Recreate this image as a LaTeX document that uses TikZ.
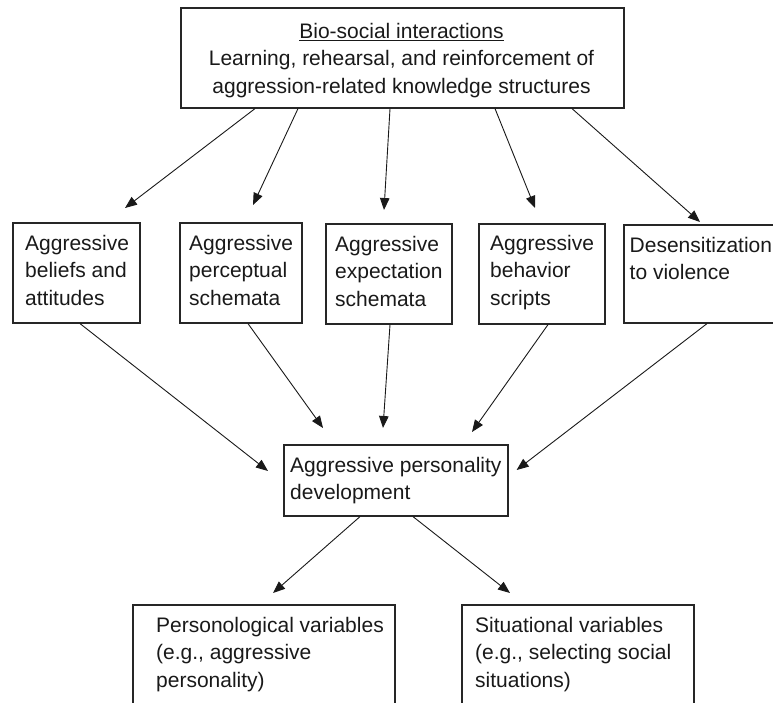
\documentclass[tikz,border=0pt]{standalone}
\usepackage{fontspec}
\setmainfont{Liberation Sans}
\usetikzlibrary{arrows.meta}
\begin{document}
\begin{tikzpicture}[x=1pt,y=-1pt,
  box/.style={draw=black!85, line width=1.6pt, rectangle, inner sep=0pt, anchor=north west},
  txt/.style={inner sep=0pt, anchor=north west, align=left, text=black!90,
    font=\fontsize{21}{27.5}\selectfont},
  ctxt/.style={inner sep=0pt, anchor=north, align=center, text=black!90,
    font=\fontsize{21}{27.5}\selectfont},
  arr/.style={draw=black!90, line width=0.9pt, -{Triangle[length=12pt,width=9.5pt]}}]
\useasboundingbox (0,0) rectangle (773,702);
\clip (0,0) rectangle (773,702);

% boxes
\node[box, minimum width=443pt, minimum height=100pt] (b0) at (180,7) {};
\node[box, minimum width=127pt, minimum height=100pt] (b1) at (12,222) {};
\node[box, minimum width=122pt, minimum height=100pt] (b2) at (179,222) {};
\node[box, minimum width=126pt, minimum height=100pt] (b3) at (325,223) {};
\node[box, minimum width=126pt, minimum height=100pt] (b4) at (478,223) {};
\node[box, minimum width=180pt, minimum height=98pt] (b5) at (623,224) {};
\node[box, minimum width=224pt, minimum height=71pt] (bm) at (283,444) {};
\node[box, minimum width=262pt, minimum height=120pt] (bl) at (132,604) {};
\node[box, minimum width=232pt, minimum height=120pt] (br) at (461,604) {};

% texts
\node[ctxt] (t0) at (401.5,18.75) {\strut\underline{Bio-social interactions}\\Learning, rehearsal, and reinforcement of\\aggression-related knowledge structures};
\node[txt] (t1) at (25,230.75) {\strut Aggressive\\beliefs and\\attitudes};
\node[txt] (t2) at (189,230.75) {\strut Aggressive\\perceptual\\schemata};
\node[txt] (t3) at (335,231.75) {\strut Aggressive\\expectation\\schemata};
\node[txt] (t4) at (490,230.75) {\strut Aggressive\\behavior\\scripts};
\node[txt] (t5) at (629.5,232.75) {\strut Desensitization\\to violence};
\node[txt] (tm) at (290,452.75) {\strut Aggressive personality\\development};
\node[txt] (tl) at (156,612.75) {\strut Personological variables\\(e.g., aggressive\\personality)};
\node[txt] (tr) at (475,612.75) {\strut Situational variables\\(e.g., selecting social\\situations)};

% arrows from top box
\draw[arr] ([xshift=75pt]b0.south west) -- ([xshift=113pt,yshift=14pt]b1.north west);
\draw[arr] ([xshift=118pt]b0.south west) -- ([xshift=74pt,yshift=17pt]b2.north west);
\draw[arr] ([xshift=210pt]b0.south west) -- ([xshift=59pt,yshift=13pt]b3.north west);
\draw[arr] ([xshift=315pt]b0.south west) -- ([xshift=57pt,yshift=15pt]b4.north west);
\draw[arr] ([xshift=392pt]b0.south west) -- ([xshift=77pt,yshift=2pt]b5.north west);

% arrows to middle box
\draw[arr] ([xshift=68pt]b1.south west) -- ([xshift=-15pt,yshift=-27pt]bm.north west);
\draw[arr] ([xshift=69pt]b2.south west) -- ([xshift=40pt,yshift=16pt]bm.north west);
\draw[arr] ([xshift=65pt]b3.south west) -- ([xshift=100pt,yshift=16pt]bm.north west);
\draw[arr] ([xshift=70pt]b4.south west) -- ([xshift=189pt,yshift=12pt]bm.north west);
\draw[arr] ([xshift=84pt]b5.south west) -- ([xshift=8pt,yshift=-26pt]bm.north east);

% arrows to bottom boxes
\draw[arr] ([xshift=77pt]bm.south west) -- ([xshift=141pt,yshift=11pt]bl.north west);
\draw[arr] ([xshift=130pt]bm.south west) -- ([xshift=49pt,yshift=11pt]br.north west);
\end{tikzpicture}
\end{document}
